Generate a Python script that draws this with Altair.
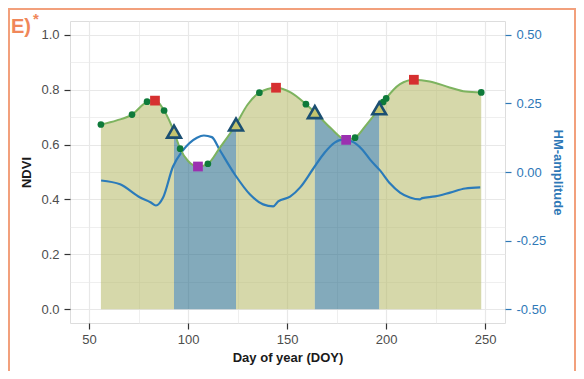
import altair as alt
import pandas as pd

# ---- data ----
curve_doy = [56, 64, 71.7, 79.3, 83.3, 87.9, 92.9, 96, 100, 105, 110, 116, 124.2, 130, 136, 144.4,
             152, 159.5, 164, 172, 179.8, 184.3, 190, 196.5, 200, 207, 214, 222, 232, 240, 248]
curve_ndvi = [0.673, 0.688, 0.709, 0.756, 0.762, 0.724, 0.647, 0.585, 0.540, 0.520, 0.530, 0.588, 0.673,
              0.745, 0.789, 0.807, 0.789, 0.747, 0.718, 0.660, 0.617, 0.625, 0.672, 0.732, 0.768, 0.820,
              0.836, 0.830, 0.808, 0.793, 0.790]

hm_doy = [56.1, 65.7, 75.8, 81, 83.8, 87.4, 92.4, 97, 104.5, 108, 112, 116, 123.7, 131.3, 137.9, 143,
          145.5, 151.5, 156.6, 163, 169, 174, 178, 182.8, 187.9, 191.9, 197, 202, 207, 212, 217, 218.2,
          224.7, 232.3, 239.9, 247.5]
hm_amp = [-0.031, -0.045, -0.093, -0.110, -0.122, -0.093, 0.020, 0.075, 0.125, 0.133, 0.127, 0.080,
          -0.010, -0.082, -0.118, -0.125, -0.107, -0.090, -0.056, 0.010, 0.071, 0.107, 0.118, 0.111,
          0.082, 0.045, 0.005, -0.042, -0.075, -0.093, -0.100, -0.095, -0.089, -0.075, -0.060, -0.056]

dot_doy = [56, 71.7, 79.3, 87.9, 96, 110, 136, 159.5, 184.3, 198.5, 200, 248]
dot_ndvi = [0.673, 0.709, 0.756, 0.724, 0.585, 0.530, 0.789, 0.747, 0.625, 0.755, 0.768, 0.790]
peak_doy = [83.3, 144.4, 214]
peak_ndvi = [0.760, 0.807, 0.836]
trough_doy = [105, 179.8]
trough_ndvi = [0.520, 0.617]
tri_doy = [92.9, 124.2, 164, 196.5]
tri_ndvi = [0.647, 0.673, 0.718, 0.732]

phase_bounds = [56, 92.9, 124.2, 164, 196.5, 248]
phase_kind = ["green", "blue", "green", "blue", "green"]

x_grid_values = [50, 75, 100, 125, 150, 175, 200, 225, 250]
y_grid_values = [0.0, 0.1, 0.2, 0.3, 0.4, 0.5, 0.6, 0.7, 0.8, 0.9, 1.0]
hm_tick_values = [-0.5, -0.25, 0.0, 0.25, 0.5]

# ---- tables ----
curve = pd.DataFrame({"doy": curve_doy, "ndvi": curve_ndvi})
rows = []
for i, kind in enumerate(phase_kind):
    lo, hi = phase_bounds[i], phase_bounds[i + 1]
    sub = curve[(curve.doy >= lo - 1e-9) & (curve.doy <= hi + 1e-9)]
    for d, v in zip(sub.doy, sub.ndvi):
        rows.append({"doy": d, "ndvi": v, "seg": i, "kind": kind})
segs = pd.DataFrame(rows)
hm = pd.DataFrame({"doy": hm_doy, "amp": hm_amp})
dots = pd.DataFrame({"doy": dot_doy, "ndvi": dot_ndvi})
peaks = pd.DataFrame({"doy": peak_doy, "ndvi": peak_ndvi})
troughs = pd.DataFrame({"doy": trough_doy, "ndvi": trough_ndvi})
tris = pd.DataFrame({"doy": tri_doy, "ndvi": tri_ndvi})
one = pd.DataFrame({"t": [1]})

FONT = "Liberation Sans"
BLUE = "#2e78b7"

x_enc = alt.X(
    "doy:Q",
    scale=alt.Scale(domain=[40.4, 260], nice=False, zero=False),
    axis=alt.Axis(
        values=x_grid_values, grid=True, gridColor="#e8e8e8",
        gridWidth={"condition": {"test": "datum.value % 50 !== 0", "value": 0.7}, "value": 1.2},
        tickColor={"condition": {"test": "datum.value % 50 !== 0", "value": "transparent"}, "value": "#333333"},
        labelExpr="datum.value % 50 === 0 ? datum.label : ''",
        labelOverlap=False, domain=False, tickSize=6, tickWidth=1.2,
        labelFontSize=13, labelColor="#4d4d4d", labelPadding=4, labelFont=FONT,
        title="Day of year (DOY)", titleFontSize=13, titleFontWeight="bold",
        titleColor="#1a1a1a", titlePadding=5, titleFont=FONT,
    ),
)

y_scale = alt.Scale(domain=[-0.05, 1.05], nice=False, zero=False)
y_left_axis = alt.Axis(
    orient="left", values=y_grid_values, grid=True, gridColor="#e8e8e8",
    gridWidth={"condition": {"test": "round(datum.value * 10) % 2 !== 0", "value": 0.7}, "value": 1.2},
    tickColor={"condition": {"test": "round(datum.value * 10) % 2 !== 0", "value": "transparent"}, "value": "#333333"},
    labelExpr="round(datum.value * 10) % 2 === 0 ? format(datum.value, '.1f') : ''",
    labelOverlap=False, domain=False, tickSize=6, tickWidth=1.2,
    labelFontSize=13, labelColor="#4d4d4d", labelPadding=5, labelFont=FONT,
    title="NDVI", titleFontSize=13, titleFontWeight="bold", titleColor="#1a1a1a",
    titlePadding=7, titleFont=FONT,
)

areas = alt.Chart(segs).mark_area(interpolate="monotone", opacity=0.55).encode(
    x=x_enc,
    y=alt.Y("ndvi:Q", scale=y_scale, axis=y_left_axis, stack=None),
    y2=alt.datum(0),
    color=alt.Color("kind:N", scale=alt.Scale(domain=["green", "blue"], range=["#b4b864", "#1d6584"]), legend=None),
    detail="seg:N",
)

hm_line = alt.Chart(hm).mark_line(interpolate="monotone", color="#2b7bba", strokeWidth=2.2).encode(
    x=x_enc,
    y=alt.Y("amp:Q", scale=alt.Scale(domain=[-0.55, 0.55], nice=False, zero=False),
            axis=alt.Axis(orient="right", values=hm_tick_values, grid=False, domain=False,
                          labelExpr="replace(format(datum.value, '.2f'), '\u2212', '-')",
                          tickSize=6, tickWidth=1.2, tickColor=BLUE, labelColor=BLUE,
                          labelFontSize=13, labelPadding=5, labelFont=FONT,
                          title="HM-amplitude", titleColor=BLUE, titleFontSize=13,
                          titleFontWeight="bold", titlePadding=5, titleFont=FONT)),
)

y_c = alt.Y("ndvi:Q", scale=y_scale, axis=None)
green_line = alt.Chart(curve).mark_line(interpolate="monotone", color="#7db35f", strokeWidth=2).encode(x=x_enc, y=y_c)
dot_pts = alt.Chart(dots).mark_point(shape="circle", filled=True, size=45, color="#0e7a3a", opacity=1).encode(x=x_enc, y=y_c)
peak_pts = alt.Chart(peaks).mark_point(shape="square", filled=True, size=95, color="#d63030", opacity=1).encode(x=x_enc, y=y_c)
trough_pts = alt.Chart(troughs).mark_point(shape="square", filled=True, size=95, color="#9b30b0", opacity=1).encode(x=x_enc, y=y_c)
tri_fill = alt.Chart(tris).mark_point(shape="triangle-up", filled=True, size=170, color="#c4c46e",
                                      opacity=1).encode(x=x_enc, y=y_c)
tri_edge = alt.Chart(tris).mark_point(shape="triangle-up", filled=False, size=190, color="#1b4f72",
                                      strokeWidth=2.6, opacity=1).encode(x=x_enc, y=y_c)

frame = alt.Chart(one).mark_rect(fillOpacity=0, stroke="#f2a07c", strokeWidth=2).encode(
    x=alt.value(-61), x2=alt.value(505), y=alt.value(-12), y2=alt.value(360))
lab_e = alt.Chart(one).mark_text(text="E)", font=FONT, fontSize=20, fontWeight="bold", color="#f0875a",
                                 align="left", baseline="alphabetic").encode(x=alt.value(-59), y=alt.value(12))
lab_star = alt.Chart(one).mark_text(text="*", font=FONT, fontSize=15, fontWeight="bold", color="#f0875a",
                                    align="left", baseline="top").encode(x=alt.value(-37), y=alt.value(-9))

top = alt.layer(green_line, dot_pts, peak_pts, trough_pts, tri_fill, tri_edge, frame, lab_e, lab_star)

chart = alt.layer(areas, hm_line, top).resolve_scale(y="independent").properties(
    width=435, height=302,
    autosize=alt.AutoSizeParams(type="none"),
    padding={"left": 62, "top": 13, "right": 71, "bottom": 48},
).configure_view(stroke="#333333", strokeWidth=1.2).configure(background="white")

chart.save("out.html", embed_options={"renderer": "svg", "actions": False})
